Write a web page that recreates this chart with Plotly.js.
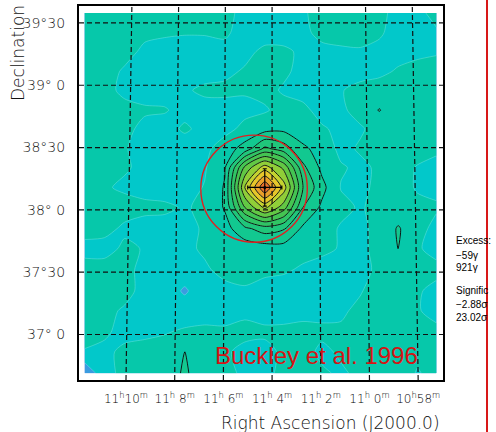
<!DOCTYPE html>
<html>
<head>
<meta charset="utf-8">
<script src="https://cdn.plot.ly/plotly-3.0.1.min.js"></script>
<style>
  html, body { margin: 0; padding: 0; background: #fff; }
  #plot { width: 496px; height: 432px; }
</style>
</head>
<body>
<div id="plot"></div>
<script>
// Map nodes: right ascension in minutes of time (11h10m = 670), declination in degrees
const raNodes = [671.70, 670.88, 670.06, 669.23, 668.41, 667.59, 666.77, 665.94, 665.12, 664.30,
                 663.52, 662.73, 661.95, 661.17, 660.38, 659.60, 658.82, 658.03, 657.25];
const decNodes = [39.58, 39.42, 39.27, 39.11, 38.96, 38.80, 38.65, 38.49, 38.34, 38.18,
                  38.02, 37.85, 37.69, 37.52, 37.35, 37.19, 37.02, 36.86, 36.69];

// Significance (sigma) at each node, one row per declination, north to south
const significance = [
  [2.0, 2.0, 1.8, 1.8, 1.6, 1.7, 1.6, 1.4, 0.6, 0.4, 0.5, 0.8, 1.6, 1.8, 1.6, 1.4, 0.5, 0.6, 1.5],
  [2.0, 1.9, 1.7, 1.3, 1.2, 1.1, 1.1, 1.2, 0.5, 0.2, 0.3, 0.6, 1.5, 1.9, 1.7, 1.2, 0.4, 0.3, 0.8],
  [1.9, 1.8, 1.5, 0.7, 0.4, 0.3, 0.4, 0.6, 0.5, 1.4, 1.3, 0.7, 0.5, 0.6, 0.8, 0.6, 0.4, 0.6, 0.9],
  [1.8, 1.6, 0.8, 0.3, 0.2, 0.3, 0.4, 0.6, 1.2, 1.5, 1.3, 0.5, 0.3, 0.2, 0.4, 0.6, 1.2, 1.6, 1.4],
  [1.7, 1.4, 0.7, 0.4, 0.5, 0.8, 1.3, 1.4, 1.2, 1.5, 0.8, 0.4, 0.5, 0.9, 1.5, 1.8, 1.7, 1.9, 1.6],
  [1.8, 1.5, 1.4, 1.2, 1.1, 0.6, 0.4, 0.3, 0.5, 0.8, 1.6, 1.4, 0.4, 0.7, 1.6, 3.1, 1.8, 1.7, 1.9],
  [1.7, 1.6, 1.4, 0.6, 0.5, 1.2, 0.6, 0.4, 1.5, 2.2, 2.5, 1.8, 1.2, 0.6, 0.8, 1.6, 1.7, 1.4, 1.5],
  [1.6, 1.3, 1.1, 0.5, 0.4, 0.3, 0.5, 2.0, 3.8, 7.5, 6.0, 3.4, 2.2, 0.5, 1.2, 1.7, 1.8, 1.6, 1.3],
  [1.5, 1.6, 1.2, 0.6, 0.4, 0.5, 0.8, 2.8, 11.5, 16.0, 12.5, 5.5, 2.5, 1.2, 0.6, 1.3, 1.6, 0.9, 0.5],
  [1.4, 1.2, 0.7, 0.4, 0.5, 0.3, 1.1, 3.2, 15.0, 23.02, 16.0, 7.0, 3.6, 0.9, 0.5, 1.5, 1.8, 0.8, 0.6],
  [1.5, 1.6, 1.7, 1.4, 1.2, 0.9, 1.2, 3.2, 11.0, 15.5, 12.0, 5.0, 2.6, 1.5, 0.8, 1.6, 1.8, 1.5, 1.2],
  [1.6, 1.5, 0.7, 0.4, 0.6, 0.5, 1.2, 2.2, 4.5, 6.0, 5.2, 2.6, 1.8, 0.8, 0.6, 1.5, 3.2, 1.6, 0.5],
  [0.5, 0.4, 1.3, 0.9, 0.6, 0.7, 1.2, 1.1, 1.8, 2.0, 2.2, 1.5, 1.3, 0.9, 0.7, 1.4, 3.05, 1.2, 0.4],
  [1.6, 1.7, 1.4, 0.6, 0.3, 0.2, 0.8, 1.4, 1.6, 1.3, 1.2, 0.8, 0.5, 0.3, 0.4, 1.4, 1.7, 1.8, 1.5],
  [1.7, 1.8, 1.5, 0.5, 0.2, -1.3, 0.3, 0.6, 0.8, 0.5, 0.3, 0.2, 0.4, 0.5, 0.9, 1.6, 1.8, 1.2, 0.5],
  [1.6, 1.4, 0.8, 0.4, 0.3, 0.2, 0.4, 0.5, 0.7, 0.4, 0.3, 0.5, 0.6, 0.8, 1.3, 1.7, 1.6, 1.1, 0.6],
  [1.5, 1.2, 0.6, 0.7, 0.9, 1.2, 1.3, 1.2, 1.4, 1.3, 1.4, 1.5, 1.3, 1.2, 1.5, 1.7, 1.4, 1.6, 1.3],
  [0.9, 0.7, 1.3, 1.5, 1.6, 3.05, 1.6, 1.2, 0.6, 0.5, 1.3, 1.5, 0.7, 1.2, 1.5, 1.6, 1.4, 1.3, 1.5],
  [-2.88, 0.5, 1.4, 1.6, 1.5, 3.4, 1.5, 1.3, 0.8, 0.6, 1.4, 1.6, 1.2, 0.8, 1.3, 1.5, 1.7, 0.9, 1.4]
];

// Fitted source position with its errors, and the earlier position circle
const sourceRA = [664.30];
const sourceDec = [38.18];
const sourceErrRA = [0.7];
const sourceErrDec = [0.15];
const buckleyRA = 664.74;
const buckleyDec = 38.17;
const buckleyRadiusDeg = 0.43;

// Axis ticks
const raTicks = [670, 668, 666, 664, 662, 660, 658];
const raTickText = ['11<sup>h</sup>10<sup>m</sup>', '11<sup>h</sup> 8<sup>m</sup>', '11<sup>h</sup> 6<sup>m</sup>',
                    '11<sup>h</sup> 4<sup>m</sup>', '11<sup>h</sup> 2<sup>m</sup>', '11<sup>h</sup> 0<sup>m</sup>',
                    '10<sup>h</sup>58<sup>m</sup>'];
const decTicks = [39.5, 39.0, 38.5, 38.0, 37.5, 37.0];
const decTickText = ['39°30', '39° 0', '38°30', '38° 0', '37°30', '37° 0'];

// Colour bar summary
const excessRange = ['\u221259\u03b3', '921\u03b3'];
const signifRange = [-2.88, 23.02];

// Filled contour bands, one colour per band from below -3 sigma up to above 21 sigma
const bandColors = ['#2a50c8', '#3a9ce0', '#02c8ca', '#06c8aa', '#12c890', '#20c67a', '#30c464',
                    '#44c452', '#62c844', '#90ce38', '#c4d230', '#e6c62a', '#eca02a', '#e8702c'];
const nLevels = bandColors.length - 1;
const colorscale = bandColors.map((c, j) => [j / nLevels, c]);

const xRange = [671.93, 656.98];
const yRange = [36.635, 39.636];

const fillTrace = {
  type: 'contour',
  x: raNodes, y: decNodes, z: significance,
  colorscale: colorscale,
  autocontour: false,
  contours: { start: -3, end: 21, size: 2, coloring: 'fill', showlines: true },
  line: { color: 'rgba(200,255,250,0.45)', width: 0.6, smoothing: 0.7 },
  showscale: false, hoverinfo: 'skip'
};

const lineTrace = {
  type: 'contour',
  x: raNodes, y: decNodes, z: significance,
  autocontour: false,
  contours: { start: 3, end: 21, size: 2, coloring: 'none' },
  line: { color: '#000', width: 0.9, smoothing: 0.7 },
  showscale: false, hoverinfo: 'skip'
};

const sourceTrace = {
  type: 'scatter', mode: 'markers',
  x: sourceRA, y: sourceDec,
  marker: { color: '#000', size: 3 },
  error_x: { type: 'data', array: sourceErrRA, color: '#000', thickness: 1.2, width: 2 },
  error_y: { type: 'data', array: sourceErrDec, color: '#000', thickness: 1.2, width: 2 },
  hoverinfo: 'skip', showlegend: false
};

// Dashed coordinate grid: declination lines straight, hour lines converging northward
const gridLine = { color: '#111', width: 1.2, dash: '5px,3px' };
const shapes = [];
decTicks.forEach(d => shapes.push({
  type: 'line', layer: 'above', xref: 'paper', yref: 'y',
  x0: 0, x1: 1, y0: d, y1: d, line: gridLine
}));
const raC = 664;
const rad = Math.PI / 180;
raTicks.forEach(ra => {
  const raTop = raC + (ra - raC) * Math.cos(yRange[1] * rad) / Math.cos(yRange[0] * rad);
  shapes.push({
    type: 'line', layer: 'above', xref: 'x', yref: 'y',
    x0: ra, y0: yRange[0], x1: raTop, y1: yRange[1], line: gridLine
  });
});
// circle of the earlier source position (RA radius in minutes of time)
const rRA = buckleyRadiusDeg / (0.25 * Math.cos(buckleyDec * rad));
shapes.push({
  type: 'circle', layer: 'above', xref: 'x', yref: 'y',
  x0: buckleyRA - rRA, x1: buckleyRA + rRA,
  y0: buckleyDec - buckleyRadiusDeg, y1: buckleyDec + buckleyRadiusDeg,
  line: { color: '#e02020', width: 1.4 }
});
// red rule at the right edge
shapes.push({
  type: 'line', layer: 'above', xref: 'paper', yref: 'paper',
  x0: 1.1209, x1: 1.1209, y0: -0.15, y1: 1.03,
  line: { color: '#d81818', width: 2 }
});

const labelFont = { family: 'DejaVu Sans', size: 17, color: '#111', weight: 300 };
const sideFont = { family: 'Liberation Sans, Arial, sans-serif', size: 10, color: '#000' };
const sideX = 1.031;
const annotations = [
  { text: 'Buckley et al. 1996', xref: 'paper', yref: 'paper', x: 0.6538, y: 0.0652,
    xanchor: 'center', yanchor: 'middle', showarrow: false,
    font: { family: 'Liberation Sans, Arial, sans-serif', size: 24, color: '#d41414' } },
  { text: 'Declination', xref: 'paper', yref: 'paper', x: -0.1676, y: 0.8743,
    xanchor: 'center', yanchor: 'middle', textangle: -90, showarrow: false,
    font: { family: 'DejaVu Sans', size: 17, color: '#111', weight: 300 } },
  { text: 'Right Ascension (J2000.0)', xref: 'paper', yref: 'paper', x: 0.9973, y: -0.115,
    xanchor: 'right', yanchor: 'middle', showarrow: false, font: labelFont },
  { text: 'Excess:', xref: 'paper', yref: 'paper', x: sideX, y: 0.3717, xanchor: 'left', yanchor: 'middle', showarrow: false, font: sideFont },
  { text: excessRange[0], xref: 'paper', yref: 'paper', x: sideX, y: 0.3342, xanchor: 'left', yanchor: 'middle', showarrow: false, font: sideFont },
  { text: excessRange[1], xref: 'paper', yref: 'paper', x: sideX, y: 0.2995, xanchor: 'left', yanchor: 'middle', showarrow: false, font: sideFont },
  { text: 'Signific', xref: 'paper', yref: 'paper', x: sideX, y: 0.238, xanchor: 'left', yanchor: 'middle', showarrow: false, font: sideFont },
  { text: (signifRange[0].toFixed(2) + '\u03c3').replace('-', '\u2212'), xref: 'paper', yref: 'paper', x: sideX, y: 0.2032, xanchor: 'left', yanchor: 'middle', showarrow: false, font: sideFont },
  { text: signifRange[1].toFixed(2) + '\u03c3', xref: 'paper', yref: 'paper', x: sideX, y: 0.1658, xanchor: 'left', yanchor: 'middle', showarrow: false, font: sideFont }
];

const layout = {
  width: 496, height: 432,
  margin: { l: 79, r: 53, t: 6, b: 52 },
  paper_bgcolor: '#fff', plot_bgcolor: '#fff',
  showlegend: false,
  xaxis: {
    range: xRange, tickvals: raTicks, ticktext: raTickText,
    ticks: 'outside', ticklen: 7, tickcolor: 'rgba(0,0,0,0)',
    tickfont: { family: 'DejaVu Sans', size: 12, color: '#000', weight: 300 },
    showgrid: false, zeroline: false,
    showline: true, mirror: true, linecolor: '#000', linewidth: 2
  },
  yaxis: {
    range: yRange, tickvals: decTicks, ticktext: decTickText,
    ticks: 'outside', ticklen: 9, tickcolor: 'rgba(0,0,0,0)',
    tickfont: { family: 'DejaVu Sans', size: 14, color: '#111', weight: 300 },
    showgrid: false, zeroline: false,
    showline: true, mirror: true, linecolor: '#000', linewidth: 2
  },
  shapes: shapes,
  annotations: annotations
};

Plotly.newPlot('plot', [fillTrace, lineTrace, sourceTrace], layout, { staticPlot: true, displayModeBar: false });
</script>
</body>
</html>
